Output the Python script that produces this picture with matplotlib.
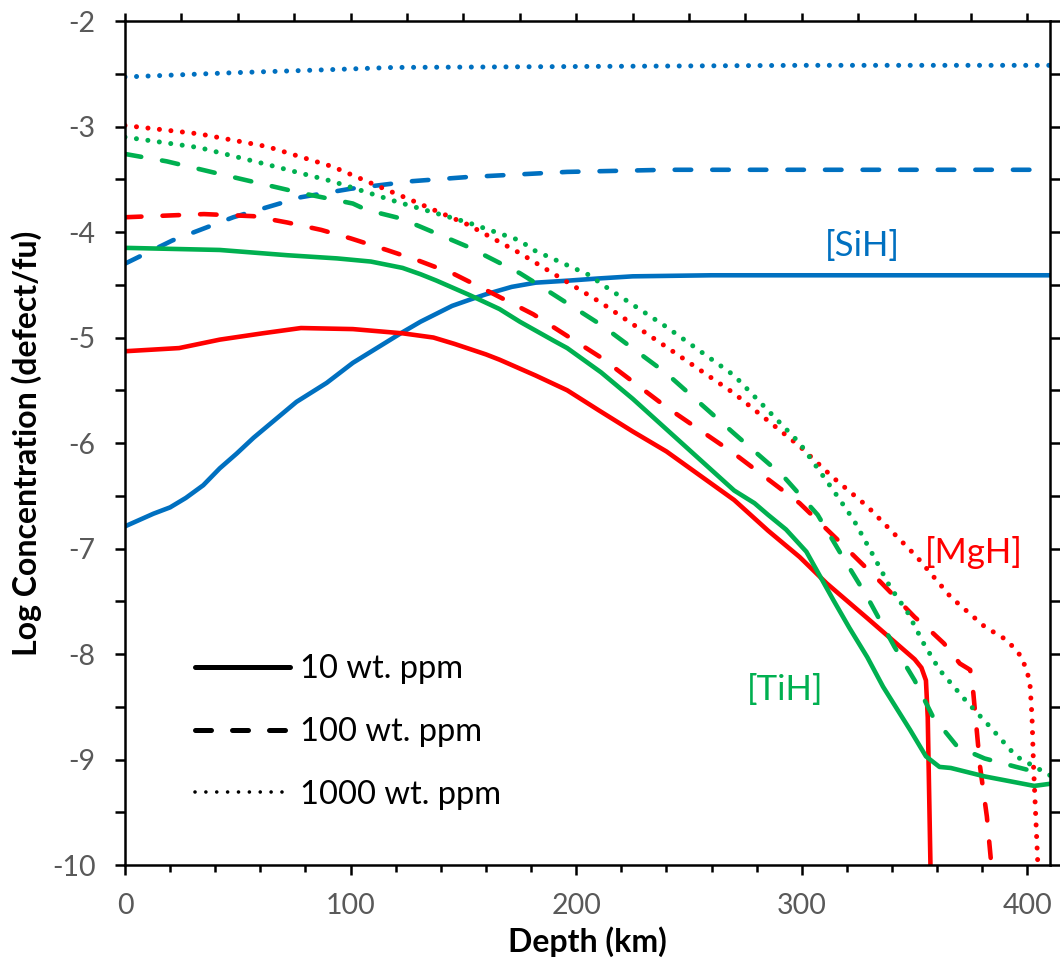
import numpy as np
import matplotlib
matplotlib.use("Agg")
import matplotlib.pyplot as plt
from matplotlib.lines import Line2D
from matplotlib.ticker import MultipleLocator

plt.rcParams['font.family'] = ['Lato', 'DejaVu Sans']
plt.rcParams['axes.unicode_minus'] = False

# ---- data (depth in km, log concentration) ----
sih_10_x = [0, 12.6, 20, 27, 34.7, 42, 49.5, 57, 76, 89.4, 101, 123, 131, 145, 153,
            160, 171.4, 182, 197, 210, 225, 260, 410]
sih_10_y = [-6.79, -6.67, -6.61, -6.52, -6.40, -6.24, -6.10, -5.95, -5.61, -5.43,
            -5.24, -4.95, -4.85, -4.70, -4.64, -4.59, -4.52, -4.48, -4.46, -4.44,
            -4.42, -4.41, -4.41]

sih_100_x = [0, 21, 48, 78, 100, 119, 126, 151, 196, 240, 410]
sih_100_y = [-4.30, -4.08, -3.86, -3.67, -3.59, -3.54, -3.52, -3.48, -3.43, -3.41, -3.41]

sih_1000_x = [0, 48, 92, 119, 210, 300, 410]
sih_1000_y = [-2.53, -2.49, -2.46, -2.44, -2.43, -2.42, -2.42]

mgh_10_x = [0, 24, 42, 61, 78, 101, 123, 136.7, 146, 160, 166, 182, 196, 210, 225,
            240, 255, 270, 285, 299, 311, 329, 343, 350, 353, 355, 355.8, 357]
mgh_10_y = [-5.13, -5.10, -5.02, -4.96, -4.91, -4.92, -4.96, -5.00, -5.06, -5.16,
            -5.21, -5.36, -5.50, -5.69, -5.89, -6.08, -6.31, -6.54, -6.83, -7.08,
            -7.33, -7.66, -7.92, -8.05, -8.13, -8.25, -8.6, -10]

mgh_100_x = [0, 35, 57, 72, 87, 100, 116, 130, 146, 160, 181, 211, 240, 270, 299,
             316, 335, 350, 358, 363, 370, 374.6, 376, 379, 382, 384]
mgh_100_y = [-3.86, -3.83, -3.85, -3.91, -3.98, -4.06, -4.17, -4.27, -4.40, -4.55,
             -4.78, -5.19, -5.66, -6.10, -6.57, -6.92, -7.32, -7.65, -7.80, -7.90,
             -8.09, -8.15, -8.37, -9.07, -9.54, -10.0]

mgh_1000_x = [0, 33, 63, 92, 116, 125, 152, 175, 211, 240, 270, 299, 314, 329, 351,
              366, 381, 391, 397.5, 401, 402, 402.7, 404.6]
mgh_1000_y = [-2.99, -3.07, -3.19, -3.38, -3.60, -3.68, -3.93, -4.20, -4.67, -5.09,
              -5.53, -6.03, -6.33, -6.60, -7.08, -7.46, -7.74, -7.87, -8.03, -8.25,
              -8.59, -9.07, -10.0]

tih_10_x = [0, 42, 72, 94, 109, 123, 131, 138, 153, 166, 175, 190, 196, 211, 225,
            240, 255, 270, 279, 285, 293, 302, 314, 321, 329, 336, 348, 355, 361,
            366, 381, 403, 410]
tih_10_y = [-4.15, -4.17, -4.22, -4.25, -4.28, -4.34, -4.40, -4.46, -4.60, -4.73,
            -4.85, -5.03, -5.10, -5.33, -5.58, -5.87, -6.16, -6.45, -6.57, -6.68,
            -6.82, -7.03, -7.49, -7.75, -8.03, -8.31, -8.72, -8.97, -9.07, -9.08,
            -9.16, -9.25, -9.23]

tih_100_x = [0, 18.5, 48, 78, 101, 107, 122, 131, 152, 175, 181, 211, 240, 270, 292,
             307, 317, 329, 341, 350, 358, 369, 381, 395, 406]
tih_100_y = [-3.26, -3.33, -3.48, -3.63, -3.73, -3.79, -3.87, -3.95, -4.14, -4.39,
             -4.47, -4.88, -5.34, -5.91, -6.32, -6.68, -7.04, -7.46, -7.93, -8.25,
             -8.59, -8.88, -8.99, -9.07, -9.13]

tih_1000_x = [0, 33, 63, 92, 120, 152, 175, 181, 206, 211, 240, 270, 299, 314, 323,
              332, 339, 347, 354, 361, 373, 383, 395, 410]
tih_1000_y = [-3.10, -3.20, -3.36, -3.52, -3.71, -3.91, -4.08, -4.17, -4.41, -4.49,
              -4.90, -5.36, -6.00, -6.45, -6.73, -7.08, -7.36, -7.61, -7.90, -8.15,
              -8.45, -8.68, -8.97, -9.15]

legend_labels = ['10 wt. ppm', '100 wt. ppm', '1000 wt. ppm']

blue = '#0070C0'
red = '#FF0000'
green = '#00B050'

solid = '-'
dashed = (0, (3.6, 4.6))
dotted = (0, (0.01, 2.3))

fig = plt.figure(figsize=(10.6, 9.69), dpi=100)
ax = fig.add_axes([0.1179, 0.1073, 0.8727, 0.871])

series = [
    (sih_10_x, sih_10_y, blue, solid), (sih_100_x, sih_100_y, blue, dashed),
    (sih_1000_x, sih_1000_y, blue, dotted),
    (mgh_10_x, mgh_10_y, red, solid), (mgh_100_x, mgh_100_y, red, dashed),
    (mgh_1000_x, mgh_1000_y, red, dotted),
    (tih_10_x, tih_10_y, green, solid), (tih_100_x, tih_100_y, green, dashed),
    (tih_1000_x, tih_1000_y, green, dotted),
]
for xs, ys, c, ls in series:
    w = 3.6 if ls == dotted else 3.3
    ax.plot(xs, ys, color=c, lw=w, linestyle=ls, dash_capstyle='round',
            solid_capstyle='round', solid_joinstyle='round', dash_joinstyle='round')

ax.text(327, -4.13, '[SiH]', color=blue, fontsize=25, ha='center', va='center')
ax.text(376, -7.04, '[MgH]', color=red, fontsize=25, ha='center', va='center')
ax.text(292.6, -8.34, '[TiH]', color=green, fontsize=25, ha='center', va='center')

ax.set_xlim(0, 410)
ax.set_ylim(-10, -2)
ax.xaxis.set_major_locator(MultipleLocator(100))
ax.xaxis.set_minor_locator(MultipleLocator(20))
ax.yaxis.set_major_locator(MultipleLocator(1))
ax.yaxis.set_minor_locator(MultipleLocator(0.5))

for sp in ax.spines.values():
    sp.set_linewidth(1.8)
    sp.set_color('black')

ax.tick_params(axis='both', which='both', direction='out', width=1.8, color='black',
               labelcolor='#595959', labelsize=20.5)
ax.tick_params(axis='x', which='major', length=7.2, pad=13)
ax.tick_params(axis='x', which='minor', length=5)
ax.tick_params(axis='y', which='both', length=7.2, pad=14, right=True)

ax2 = ax.twiny()
ax2.set_xlim(ax.get_xlim())
ax2.xaxis.set_major_locator(MultipleLocator(25))
ax2.tick_params(axis='x', direction='out', length=6, width=1.8, color='black',
                labeltop=False)
for sp in ax2.spines.values():
    sp.set_visible(False)

ax.set_xlabel('Depth (km)', fontsize=23, fontweight='bold', color='black')
ax.set_ylabel('Log Concentration (defect/fu)', fontsize=23, fontweight='bold',
              color='black')
ax.xaxis.set_label_coords(0.5, -0.073)
ax.yaxis.set_label_coords(-0.09, 0.5)

handles = [
    Line2D([], [], color='black', lw=3.6, linestyle='-', solid_capstyle='round'),
    Line2D([], [], color='black', lw=3.6, linestyle=(0, (3.2, 4.2)), dash_capstyle='round'),
    Line2D([], [], color='black', lw=2.6, linestyle=(0, (0.01, 3.0)), dash_capstyle='round'),
]
ax.legend(handles, legend_labels, loc='center left', bbox_to_anchor=(0.076, 0.1576),
          frameon=False, fontsize=23.5, handlelength=2.9, handletextpad=0.3,
          labelspacing=1.0, borderpad=0, borderaxespad=0)

fig.savefig('out.png', dpi=100)
